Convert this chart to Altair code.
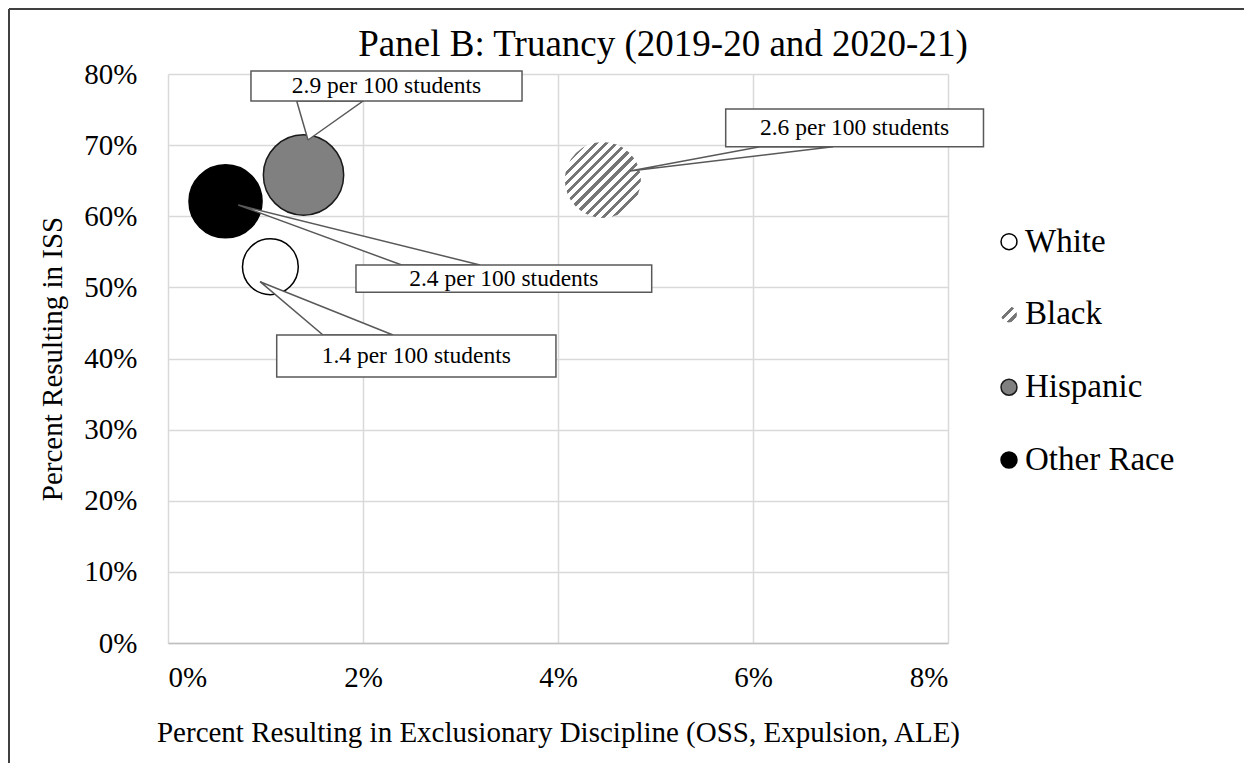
import altair as alt
import pandas as pd

# ---------------- data ----------------
race = ["White", "Black", "Hispanic", "Other Race"]
excl_share = [0.0105, 0.0446, 0.0139, 0.0059]   # x: share resulting in exclusionary discipline
iss_share = [0.529, 0.651, 0.658, 0.621]        # y: share resulting in ISS
rate_per_100 = [1.4, 2.6, 2.9, 2.4]             # bubble size
callout_text = [f"{r} per 100 students" for r in rate_per_100]

x_ticks = [0, 0.02, 0.04, 0.06, 0.08]
y_ticks = [0, 0.1, 0.2, 0.3, 0.4, 0.5, 0.6, 0.7, 0.8]

# callout annotation layout (in data units)
box_left = [0.01115, 0.0572, 0.00851, 0.01928]
box_right = [0.03979, 0.08364, 0.03631, 0.04961]
box_top = [0.4330, 0.7508, 0.8042, 0.5315]
box_bottom = [0.3740, 0.6978, 0.7620, 0.4931]
tip_x = [0.00944, 0.04738, 0.01436, 0.00721]
tip_y = [0.5080, 0.6636, 0.7072, 0.6158]
base_x0 = [0.01590, 0.06072, 0.0132, 0.02397]
base_x1 = [0.02308, 0.06821, 0.0200, 0.0320]
base_y = [0.4330, 0.6978, 0.7620, 0.5315]

FONT = "Liberation Serif"

# ---------------- tables ----------------
bub = pd.DataFrame({"race": race, "x": excl_share, "y": iss_share, "rate": rate_per_100})

wedge_rows = []
for i, r in enumerate(race):
    pts = [(tip_x[i], tip_y[i]), (base_x0[i], base_y[i]), (base_x1[i], base_y[i]), (tip_x[i], tip_y[i])]
    for k, (px, py) in enumerate(pts):
        wedge_rows.append({"race": r, "k": k, "x": px, "y": py})
wedge = pd.DataFrame(wedge_rows)

boxes = pd.DataFrame({
    "race": race, "label": callout_text,
    "x0": box_left, "x1": box_right, "y0": box_top, "y1": box_bottom,
})
boxes["xc"] = (boxes["x0"] + boxes["x1"]) / 2
boxes["yc"] = (boxes["y0"] + boxes["y1"]) / 2

leg = pd.DataFrame({"race": race})


def stripes(n, frac, dark="#767676", light="#ffffff"):
    stops = []
    for i in range(n):
        a = i / n
        m = (i + frac) / n
        b = (i + 1) / n
        stops += [alt.GradientStop(offset=a, color=dark), alt.GradientStop(offset=m, color=dark),
                  alt.GradientStop(offset=m, color=light), alt.GradientStop(offset=b, color=light)]
    return alt.LinearGradient(gradient="linear", stops=stops, x1=0, y1=0, x2=1, y2=1)


xs = alt.Scale(domain=[0, 0.08], nice=False)
ys = alt.Scale(domain=[0, 0.8], nice=False)
size_scale = alt.Scale(domain=[0, 2.9], range=[0, 6450])
fill_scale = alt.Scale(domain=["White", "Hispanic", "Other Race"], range=["#ffffff", "#808080", "#000000"])
stroke_scale = alt.Scale(domain=["White", "Hispanic", "Other Race"], range=["#000000", "#1a1a1a", "#000000"])

X = alt.X("x:Q", scale=xs, axis=alt.Axis(values=x_ticks, format=".0%", title="Percent Resulting in Exclusionary Discipline (OSS, Expulsion, ALE)",
                                          grid=True, ticks=False, tickSize=0, labelPadding=20, titlePadding=26,
                                          domain=True, domainColor="#bfbfbf", domainWidth=1.5))
Y = alt.Y("y:Q", scale=ys, axis=alt.Axis(values=y_ticks, format=".0%", title="Percent Resulting in ISS",
                                          grid=True, ticks=False, tickSize=0, labelPadding=31, titlePadding=16,
                                          domain=False))

black_bubble = alt.Chart(bub).transform_filter("datum.race == 'Black'").mark_circle(
    fill=stripes(15, 0.42), opacity=1, strokeWidth=0
).encode(x=X, y=Y, size=alt.Size("rate:Q", scale=size_scale, legend=None))

other_bubbles = alt.Chart(bub).transform_filter("datum.race != 'Black'").mark_circle(
    opacity=1, strokeWidth=1.5
).encode(
    x=X, y=Y,
    size=alt.Size("rate:Q", scale=size_scale, legend=None),
    fill=alt.Fill("race:N", scale=fill_scale, legend=None),
    stroke=alt.Stroke("race:N", scale=stroke_scale, legend=None),
    order=alt.Order("rate:Q", sort="descending"),
)

wedges = alt.Chart(wedge).mark_line(fill="white", filled=True, stroke="#595959", strokeWidth=1.5, interpolate="linear").encode(
    x=X, y=Y, detail="race:N", order="k:Q"
)

box_marks = alt.Chart(boxes).mark_rect(fill="white", stroke="#595959", strokeWidth=1.5).encode(
    x=alt.X("x0:Q", scale=xs), x2="x1:Q", y=alt.Y("y0:Q", scale=ys), y2="y1:Q"
)

box_text = alt.Chart(boxes).mark_text(font=FONT, fontSize=23.5, color="#000000", baseline="middle", align="center").encode(
    x=alt.X("xc:Q", scale=xs), y=alt.Y("yc:Q", scale=ys), text="label:N"
)

main = alt.layer(black_bubble, other_bubbles, wedges, box_marks, box_text)

# ---------------- legend (manual, right side) ----------------
LY = alt.Y("race:N", sort=race, axis=None, scale=alt.Scale(domain=race, range=[167.7, 386], padding=0))
leg_sym = alt.Chart(leg).transform_filter("datum.race != 'Black'").mark_circle(size=254, opacity=1, strokeWidth=1.5).encode(
    x=alt.value(841), y=LY,
    fill=alt.Fill("race:N", scale=fill_scale, legend=None),
    stroke=alt.Stroke("race:N", scale=stroke_scale, legend=None),
)
leg_black = alt.Chart(leg).transform_filter("datum.race == 'Black'").mark_circle(
    size=254, opacity=1, strokeWidth=0, fill=stripes(3, 0.4)
).encode(x=alt.value(841), y=LY)
leg_text = alt.Chart(leg).mark_text(font=FONT, fontSize=33, align="left", baseline="middle", color="#000000").encode(
    x=alt.value(857), y=LY, text="race:N"
)
legend = alt.layer(leg_sym, leg_black, leg_text)

# decorative frame (top and left edge of the original figure)
frame_top = alt.Chart(pd.DataFrame({"a": [0]})).mark_rule(color="#404040", strokeWidth=2).encode(
    x=alt.value(-159), x2=alt.value(1084), y=alt.value(-65)
)
frame_left = alt.Chart(pd.DataFrame({"a": [0]})).mark_rule(color="#404040", strokeWidth=2).encode(
    x=alt.value(-159), y=alt.value(-65), y2=alt.value(700)
)

chart = alt.layer(main, legend, frame_top, frame_left).resolve_scale(
    x="independent", y="independent"
).properties(
    width=780, height=569,
    autosize=alt.AutoSizeParams(type="none"),
    padding={"left": 160, "top": 66, "right": 296, "bottom": 120},
    title=alt.Title("Panel B: Truancy (2019-20 and 2020-21)", font=FONT, fontSize=37, fontWeight="normal",
                    color="#000000", anchor="middle", dx=105, offset=-85, baseline="alphabetic", frame="group"),
).configure_view(stroke=None).configure_axis(
    labelFont=FONT, titleFont=FONT, labelFontSize=29, titleFontSize=29, labelColor="#000000", titleColor="#000000",
    titleFontWeight="normal", gridColor="#d9d9d9", gridWidth=1.5, labelOverlap=False,
)

chart.save("out.html", embed_options={"renderer": "svg", "actions": False})
